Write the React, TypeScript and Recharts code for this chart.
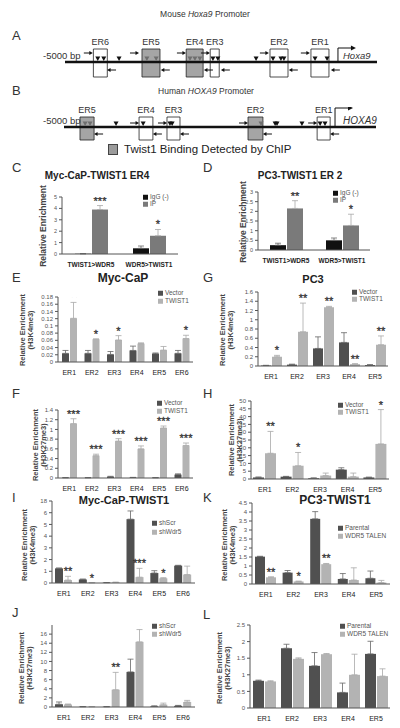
import React from "react";
import {
  BarChart,
  Bar,
  XAxis,
  YAxis,
  ErrorBar,
  ScatterChart,
  Scatter,
  ReferenceArea,
  ReferenceLine,
} from "recharts";

const FONT = "'Liberation Sans', Arial, Helvetica, sans-serif";
const DARK = "#505050";
const LIGHT = "#b3b3b3";

// ---- promoter maps, bp relative to the TSS ----
const mouseER = ["ER6", "ER5", "ER4", "ER3", "ER2", "ER1"];
const mouseFrom = [-4480, -3590, -2780, -2340, -1245, -495];
const mouseTo = [-4225, -3260, -2470, -2175, -915, -165];
const mouseBound = [false, true, true, false, false, false];
const mouseSites = [-4400, -4290, -4010, -3500, -3330, -2710, -2620, -2530, -2290, -2200, -1500, -1190, -1045, -990, -420, -200];
const mouseFwd = [-4490, -3645, -2785, -2345, -1265, -515];
const mouseRev = [-4230, -3245, -2455, -2145, -900, -130];

const humanER = ["ER5", "ER4", "ER3", "ER2", "ER1"];
const humanFrom = [-4705, -3615, -3100, -1605, -330];
const humanTo = [-4445, -3360, -2860, -1330, -90];
const humanBound = [true, false, false, true, false];
const humanSites = [-4610, -4520, -4040, -3540, -3045, -3005, -1365, -1105, -1070, -610, -275, -185];
const humanFwd = [-3615, -3100, -1605, -330];
const humanRev = [-4445, -3360, -2860, -1330, -90];

// ---- ChIP bar data ----
const chipCats = ["TWIST1>WDR5", "WDR5>TWIST1"];
const cIgG = [0.02, 0.5];
const cIgGErr = [0.01, 0.2];
const cIP = [3.9, 1.6];
const cIPErr = [0.35, 0.55];
const cStars = ["***", "*"];
const cTicks = [0, 1, 2, 3, 4, 5];

const dIgG = [0.25, 0.5];
const dIgGErr = [0.1, 0.12];
const dIP = [2.15, 1.27];
const dIPErr = [0.4, 0.58];
const dStars = ["**", "*"];
const dTicks = [0, 0.5, 1, 1.5, 2, 2.5, 3];

const er6 = ["ER1", "ER2", "ER3", "ER4", "ER5", "ER6"];
const er5 = ["ER1", "ER2", "ER3", "ER4", "ER5"];

const eVector = [0.024, 0.024, 0.021, 0.032, 0.023, 0.024];
const eVectorErr = [0.008, 0.008, 0.008, 0.012, 0.002, 0.008];
const eTwist = [0.121, 0.063, 0.061, 0.051, 0.033, 0.065];
const eTwistErr = [0.044, 0.001, 0.012, 0.002, 0.01, 0.009];
const eStars = ["**", "*", "*", "", "", "*"];
const eTicks = [0, 0.02, 0.04, 0.06, 0.08, 0.1, 0.12, 0.14, 0.16, 0.18];

const gVector = [0.01, 0.03, 0.38, 0.51, 0.02];
const gVectorErr = [0.005, 0.01, 0.25, 0.21, 0.01];
const gTwist = [0.2, 0.74, 1.27, 0.04, 0.46];
const gTwistErr = [0.03, 0.62, 0.02, 0.01, 0.19];
const gStars = ["*", "**", "**", "**", "**"];
const gTicks = [0, 0.2, 0.4, 0.6, 0.8, 1, 1.2, 1.4, 1.6];

const fVector = [0.005, 0.005, 0.025, 0.01, 0.005, 0.07];
const fVectorErr = [0.003, 0.003, 0.01, 0.003, 0.003, 0.015];
const fTwist = [1.12, 0.46, 0.76, 0.6, 1.03, 0.67];
const fTwistErr = [0.1, 0.03, 0.05, 0.06, 0.04, 0.05];
const fStars = ["***", "***", "***", "***", "***", "***"];
const fTicks = [0, 0.2, 0.4, 0.6, 0.8, 1, 1.2, 1.4];

const hVector = [1, 1.5, 0.5, 6, 1];
const hVectorErr = [0.3, 0.2, 0.2, 1.2, 0.2];
const hTwist = [16.5, 8.5, 2.2, 1.5, 22.5];
const hTwistErr = [14, 8.5, 1.6, 2.3, 22];
const hStars = ["**", "*", "", "", "*"];
const hTicks = [0, 5, 10, 15, 20, 25, 30, 35, 40, 45, 50];

const iScr = [1.25, 0.3, 0.03, 5.45, 0.85, 1.48];
const iScrErr = [0.03, 0.04, 0.01, 0.7, 0.2, 0.03];
const iWdr5 = [0.25, 0.02, 0.05, 0.5, 0.4, 0.72];
const iWdr5Err = [0.32, 0.01, 0.02, 0.75, 0.05, 0.72];
const iStars = ["**", "*", "", "***", "*", ""];
const iTicks = [0, 1, 2, 3, 4, 5, 6, 7];

const kParental = [1.52, 0.63, 3.62, 0.28, 0.32];
const kParentalErr = [0.02, 0.12, 0.4, 0.3, 0.4];
const kTalen = [0.37, 0.14, 1.1, 0.22, 0.08];
const kTalenErr = [0.03, 0.02, 0.04, 0.68, 0.12];
const kStars = ["**", "*", "**", "", ""];
const kTicks = [0, 0.5, 1, 1.5, 2, 2.5, 3, 3.5, 4, 4.5];

const jScr = [0.6, 0.05, 0.05, 7.7, 0.15, 0.25];
const jScrErr = [0.5, 0.05, 0.05, 2.8, 0.1, 0.1];
const jWdr5 = [0.55, 0.05, 3.8, 14.3, 0.5, 1.1];
const jWdr5Err = [0.1, 0.05, 3.8, 2.7, 0.35, 0.35];
const jStars = ["", "", "**", "*", "", ""];
const jTicks = [0, 2, 4, 6, 8, 10, 12, 14, 16];

const lParental = [0.82, 1.8, 1.27, 0.47, 1.63];
const lParentalErr = [0.02, 0.12, 0.4, 0.28, 0.38];
const lTalen = [0.8, 1.48, 1.62, 1.0, 0.96];
const lTalenErr = [0.02, 0.03, 0.02, 0.62, 0.22];
const lTicks = [0, 0.5, 1, 1.5, 2, 2.5];

function Txt({ x, y, size = 8, bold = false, italic = false, color = "#333", align = "left", children }: any) {
  const tx = align === "center" ? "-50%" : align === "right" ? "-100%" : "0";
  return (
    <div
      style={{
        position: "absolute",
        left: x,
        top: y,
        transform: `translate(${tx},-50%)`,
        fontSize: size,
        fontWeight: bold ? 700 : 400,
        fontStyle: italic ? "italic" : "normal",
        color,
        whiteSpace: "nowrap",
        lineHeight: 1,
      }}
    >
      {children}
    </div>
  );
}

function YLab({ x, y, lines, size = 7.5 }: any) {
  return (
    <div
      style={{
        position: "absolute",
        left: x,
        top: y,
        transform: "translate(-50%,-50%) rotate(-90deg)",
        fontSize: size,
        fontWeight: 700,
        color: "#444",
        whiteSpace: "nowrap",
        textAlign: "center",
        lineHeight: 1.1,
      }}
    >
      {lines.map((l: string) => (
        <div key={l}>{l}</div>
      ))}
    </div>
  );
}

function Key({ x, y, step = 8, labels, colors }: any) {
  return (
    <>
      {labels.map((l: string, i: number) => (
        <div
          key={l}
          style={{
            position: "absolute",
            left: x,
            top: y + i * step,
            transform: "translateY(-50%)",
            display: "flex",
            alignItems: "center",
            fontSize: 6.5,
            color: "#555",
            lineHeight: 1,
            whiteSpace: "nowrap",
          }}
        >
          <span style={{ width: 5, height: 5, background: colors[i], marginRight: 2, display: "inline-block" }} />
          {l}
        </div>
      ))}
    </>
  );
}

function PromoterMap({ lineY, x0, x1, end, names, from, to, bound, sites, fwd, rev, boxTop, boxBottom, fwdY, revY, rise }: any) {
  const boxes = names.map((n: string, i: number) => ({ name: n, from: from[i], to: to[i], bound: bound[i] }));
  const inBound = (bp: number) => boxes.some((b: any) => b.bound && bp >= b.from && bp <= b.to);

  const tri = (p: any) => {
    const { cx, cy } = p;
    const c = inBound(p.payload.bp) ? "#6e6e6e" : "#111";
    return <polygon points={`${cx - 2.5},${cy - 5.5} ${cx + 2.5},${cy - 5.5} ${cx},${cy - 1}`} fill={c} />;
  };
  const arrowR = (p: any) => (
    <g>
      <line x1={p.cx - 9} y1={p.cy} x2={p.cx - 2} y2={p.cy} stroke="#111" strokeWidth={1} />
      <polygon points={`${p.cx},${p.cy} ${p.cx - 3.5},${p.cy - 2} ${p.cx - 3.5},${p.cy + 2}`} fill="#111" />
    </g>
  );
  const arrowL = (p: any) => (
    <g>
      <line x1={p.cx + 9} y1={p.cy} x2={p.cx + 2} y2={p.cy} stroke="#111" strokeWidth={1} />
      <polygon points={`${p.cx},${p.cy} ${p.cx + 3.5},${p.cy - 2} ${p.cx + 3.5},${p.cy + 2}`} fill="#111" />
    </g>
  );
  const tss = (p: any) => (
    <g>
      <polyline
        points={`${p.cx},${p.cy} ${p.cx},${p.cy - rise} ${p.cx + 14},${p.cy - rise}`}
        fill="none"
        stroke="#111"
        strokeWidth={1}
      />
      <polygon points={`${p.cx + 18},${p.cy - rise} ${p.cx + 13},${p.cy - rise - 2.5} ${p.cx + 13},${p.cy - rise + 2.5}`} fill="#111" />
    </g>
  );

  return (
    <div style={{ position: "absolute", left: 0, top: lineY - 40 }}>
      <ScatterChart width={400} height={70} margin={{ top: 20, right: 400 - x1, bottom: 10, left: x0 }}>
        <XAxis type="number" dataKey="bp" domain={[-5000, end]} hide allowDataOverflow />
        <YAxis type="number" dataKey="y" domain={[-1, 1]} hide allowDataOverflow />
        {boxes.map((b: any) => (
          <ReferenceArea
            key={b.name}
            x1={b.from}
            x2={b.to}
            y1={boxBottom}
            y2={boxTop}
            fill={b.bound ? "#9b9b9b" : "none"}
            fillOpacity={b.bound ? 0.9 : 0}
            stroke="#222"
            strokeWidth={0.8}
            ifOverflow="visible"
            label={{ value: b.name, position: "top", offset: 4, fontSize: 9, fill: "#333" }}
          />
        ))}
        <ReferenceLine
          segment={[{ x: -5000, y: 0 }, { x: end, y: 0 }]}
          stroke="#111"
          strokeWidth={2.5}
          ifOverflow="visible"
        />
        <Scatter data={sites.map((bp: number) => ({ bp, y: 0 }))} shape={tri} isAnimationActive={false} />
        <Scatter data={fwd.map((bp: number) => ({ bp, y: fwdY }))} shape={arrowR} isAnimationActive={false} />
        <Scatter data={rev.map((bp: number) => ({ bp, y: revY }))} shape={arrowL} isAnimationActive={false} />
        <Scatter data={[{ bp: 0, y: 0 }]} shape={tss} isAnimationActive={false} />
      </ScatterChart>
    </div>
  );
}

function Bars({ x0, x1, y0, y1, max, ticks, fmt, cats, a, b, ea, eb, stars, ca = DARK, cb = LIGHT, size, xBold = false, xFont = 7, yFont = 6 }: any) {
  const rows = cats.map((c: string, i: number) => ({
    cat: c,
    a: a[i],
    b: b[i],
    ea: [0, ea[i]],
    eb: [0, eb[i]],
    star: stars ? stars[i] : "",
  }));
  const ML = 36, MT = 14, MB = 14, MR = 4;
  const k = (y1 - y0) / max;
  const shapeB = (p: any) => {
    const r = p.payload || {};
    const err = r.eb ? r.eb[1] : 0;
    const top = p.y - err * k;
    return (
      <g>
        <rect x={p.x} y={p.y} width={p.width} height={Math.max(0, p.height)} fill={cb} />
        {r.star ? (
          <text
            x={p.x + p.width / 2}
            y={top - 1}
            textAnchor="middle"
            fontSize={11}
            fill="#333"
            stroke="#333"
            strokeWidth={0.3}
          >
            {r.star}
          </text>
        ) : null}
      </g>
    );
  };
  return (
    <div style={{ position: "absolute", left: x0 - ML, top: y0 - MT }}>
      <BarChart
        width={x1 - x0 + ML + MR}
        height={y1 - y0 + MT + MB}
        data={rows}
        margin={{ top: MT, right: MR, left: 0, bottom: 0 }}
        barGap={1}
      >
        <XAxis
          dataKey="cat"
          interval={0}
          height={MB}
          tickLine={false}
          tickMargin={2}
          axisLine={{ stroke: "#555" }}
          tick={{ fontSize: xFont, fill: "#222", fontWeight: xBold ? 700 : 400 }}
        />
        <YAxis
          width={ML}
          domain={[0, max]}
          ticks={ticks}
          tickFormatter={fmt}
          interval={0}
          tickSize={3}
          allowDataOverflow
          axisLine={{ stroke: "#555" }}
          tickLine={{ stroke: "#555" }}
          tick={{ fontSize: yFont, fill: "#555" }}
        />
        <Bar dataKey="a" fill={ca} barSize={size} isAnimationActive={false}>
          <ErrorBar dataKey="ea" width={3} stroke="#666" strokeWidth={0.8} direction="y" />
        </Bar>
        <Bar dataKey="b" fill={cb} barSize={size} shape={shapeB} isAnimationActive={false}>
          <ErrorBar dataKey="eb" width={3} stroke="#a8a8a8" strokeWidth={0.8} direction="y" />
        </Bar>
      </BarChart>
    </div>
  );
}

const k4 = ["Relative Enrichment", "(H3K4me3)"];
const k27 = ["Relative Enrichment", "(H3K27me3)"];

export default function App() {
  return (
    <div
      style={{
        position: "absolute",
        left: 0,
        top: 0,
        width: 400,
        height: 728,
        background: "#fff",
        fontFamily: FONT,
        overflow: "hidden",
      }}
    >
      {/* A: mouse promoter */}
      <PromoterMap
        lineY={62} x0={65} x1={377} end={715}
        names={mouseER} from={mouseFrom} to={mouseTo} bound={mouseBound}
        sites={mouseSites} fwd={mouseFwd} rev={mouseRev}
        boxTop={0.65} boxBottom={-0.75} fwdY={0.45} revY={-0.4} rise={14}
      />
      <Txt x={205} y={14} size={8.5} align="center">
        Mouse <i>Hoxa9</i> Promoter
      </Txt>
      <Txt x={12} y={35} size={13}>A</Txt>
      <Txt x={43} y={56} size={9.5}>-5000 bp</Txt>
      <Txt x={343} y={56} size={9.5} italic>Hoxa9</Txt>

      {/* B: human promoter */}
      <PromoterMap
        lineY={127} x0={64} x1={376} end={756}
        names={humanER} from={humanFrom} to={humanTo} bound={humanBound}
        sites={humanSites} fwd={humanFwd} rev={humanRev}
        boxTop={0.5} boxBottom={-0.65} fwdY={0.2} revY={-0.35} rise={19}
      />
      <Txt x={206} y={91} size={8.5} align="center">
        Human <i>HOXA9</i> Promoter
      </Txt>
      <Txt x={12} y={90} size={13}>B</Txt>
      <Txt x={43} y={121} size={9.5}>-5000 bp</Txt>
      <Txt x={343} y={121} size={10} italic>HOXA9</Txt>
      <div style={{ position: "absolute", left: 108, top: 144, width: 10, height: 11, background: "#9b9b9b", border: "1px solid #444", boxSizing: "border-box" }} />
      <Txt x={124} y={150} size={11.5} color="#222">Twist1 Binding Detected by ChIP</Txt>

      {/* C */}
      <Txt x={12} y={167} size={13}>C</Txt>
      <Txt x={97} y={176} size={10} bold align="center" color="#222">Myc-CaP-TWIST1 ER4</Txt>
      <YLab x={44} y={226} lines={["Relative Enrichment"]} size={8.5} />
      <Bars
        x0={62} x1={178} y0={197} y1={254} max={5} ticks={cTicks}
        cats={chipCats} a={cIgG} b={cIP} ea={cIgGErr} eb={cIPErr} stars={cStars}
        ca="#111" cb="#7a7a7a" size={16} xBold xFont={6.5} yFont={5.5}
      />
      <Key x={143} y={197} step={7} labels={["IgG (-)", "IP"]} colors={["#111", "#7a7a7a"]} />

      {/* D */}
      <Txt x={203} y={167} size={13}>D</Txt>
      <Txt x={300} y={176} size={10} bold align="center" color="#222">PC3-TWIST1 ER 2</Txt>
      <YLab x={244} y={222} lines={["Relative Enrichment"]} size={8.5} />
      <Bars
        x0={258} x1={370} y0={192} y1={250} max={3} ticks={dTicks}
        cats={chipCats} a={dIgG} b={dIP} ea={dIgGErr} eb={dIPErr} stars={dStars}
        ca="#111" cb="#7a7a7a" size={16} xBold xFont={6.5} yFont={5.5}
      />
      <Key x={333} y={193} step={7} labels={["IgG (-)", "IP"]} colors={["#111", "#7a7a7a"]} />

      {/* E */}
      <Txt x={12} y={277} size={13}>E</Txt>
      <Txt x={123} y={278} size={12} bold align="center" color="#222">Myc-CaP</Txt>
      <YLab x={27} y={330} lines={k4} />
      <Bars
        x0={58} x1={193} y0={297} y1={362} max={0.18} ticks={eTicks}
        cats={er6} a={eVector} b={eTwist} ea={eVectorErr} eb={eTwistErr} stars={eStars} size={7}
      />
      <Key x={158} y={293} step={8} labels={["Vector", "TWIST1"]} colors={[DARK, LIGHT]} />

      {/* G */}
      <Txt x={203} y={277} size={13}>G</Txt>
      <Txt x={313} y={279} size={11} bold align="center" color="#222">PC3</Txt>
      <YLab x={227} y={330} lines={k4} />
      <Bars
        x0={258} x1={388} y0={292} y1={366} max={1.6} ticks={gTicks}
        cats={er5} a={gVector} b={gTwist} ea={gVectorErr} eb={gTwistErr} stars={gStars} size={10}
      />
      <Key x={352} y={292} step={7} labels={["Vector", "TWIST1"]} colors={[DARK, LIGHT]} />

      {/* F */}
      <Txt x={12} y={393} size={13}>F</Txt>
      <YLab x={40} y={445} lines={k27} />
      <Bars
        x0={58} x1={193} y0={410} y1={478} max={1.4} ticks={fTicks}
        cats={er6} a={fVector} b={fTwist} ea={fVectorErr} eb={fTwistErr} stars={fStars} size={7}
      />
      <Key x={157} y={403} step={8} labels={["Vector", "TWIST1"]} colors={[DARK, LIGHT]} />

      {/* H */}
      <Txt x={203} y={393} size={13}>H</Txt>
      <YLab x={236} y={440} lines={k27} />
      <Bars
        x0={251} x1={389} y0={401} y1={479} max={50} ticks={hTicks}
        cats={er5} a={hVector} b={hTwist} ea={hVectorErr} eb={hTwistErr} stars={hStars} size={11}
      />
      <Key x={338} y={405} step={7} labels={["Vector", "TWIST1"]} colors={[DARK, LIGHT]} />

      {/* I */}
      <Txt x={12} y={497} size={13}>I</Txt>
      <Txt x={124} y={500} size={11} bold align="center" color="#222">Myc-CaP-TWIST1</Txt>
      <YLab x={29} y={545} lines={k4} />
      <Bars
        x0={52} x1={195} y0={501} y1={583} max={7} ticks={iTicks}
        fmt={(v: number) => (v === 7 ? "18" : String(v))}
        cats={er6} a={iScr} b={iWdr5} ea={iScrErr} eb={iWdr5Err} stars={iStars} size={8}
      />
      <Key x={152} y={523} step={9} labels={["shScr", "shWdr5"]} colors={[DARK, LIGHT]} />

      {/* K */}
      <Txt x={203} y={497} size={13}>K</Txt>
      <Txt x={335} y={500} size={12} bold align="center" color="#222">PC3-TWIST1</Txt>
      <YLab x={229} y={545} lines={k4} />
      <Bars
        x0={252} x1={390} y0={503} y1={584} max={4.5} ticks={kTicks}
        cats={er5} a={kParental} b={kTalen} ea={kParentalErr} eb={kTalenErr} stars={kStars} size={10}
      />
      <Key x={338} y={528} step={8} labels={["Parental", "WDR5 TALEN"]} colors={[DARK, LIGHT]} />

      {/* J */}
      <Txt x={12} y={612} size={13}>J</Txt>
      <YLab x={26} y={668} lines={k27} />
      <Bars
        x0={52} x1={195} y0={625} y1={707} max={18} ticks={jTicks}
        cats={er6} a={jScr} b={jWdr5} ea={jScrErr} eb={jWdr5Err} stars={jStars} size={8}
      />
      <Key x={152} y={626} step={8} labels={["shScr", "shWdr5"]} colors={[DARK, LIGHT]} />

      {/* L */}
      <Txt x={203} y={614} size={13}>L</Txt>
      <YLab x={224} y={668} lines={k27} />
      <Bars
        x0={250} x1={390} y0={625} y1={708} max={2.5} ticks={lTicks}
        cats={er5} a={lParental} b={lTalen} ea={lParentalErr} eb={lTalenErr} size={11}
      />
      <Key x={340} y={626} step={8} labels={["Parental", "WDR5 TALEN"]} colors={[DARK, LIGHT]} />
    </div>
  );
}
